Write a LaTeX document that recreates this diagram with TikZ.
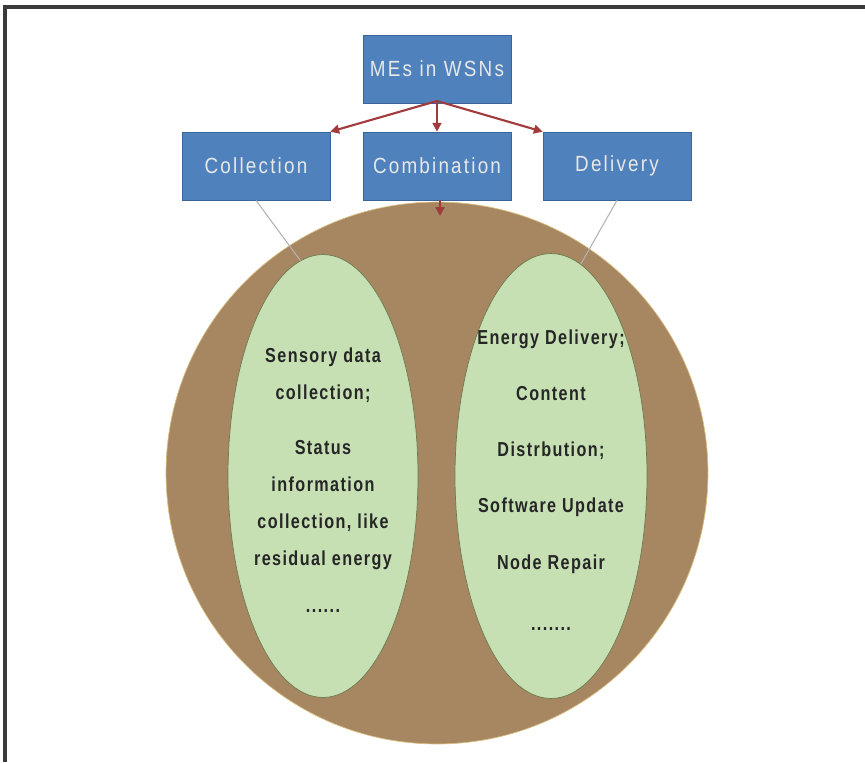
\documentclass[tikz,border=0pt]{standalone}
\usepackage{fontspec}
\setmainfont{Liberation Sans}
\newfontfamily\boxfont[LetterSpace=10,FakeStretch=0.86]{Liberation Sans}
\newfontfamily\leaffont[LetterSpace=7,FakeStretch=0.8]{Liberation Sans}
\usetikzlibrary{shapes.geometric,arrows.meta}

\definecolor{boxblue}{HTML}{4F81BD}
\definecolor{boxline}{HTML}{3A659A}
\definecolor{boxtext}{HTML}{E8E8E8}
\definecolor{soil}{HTML}{A68761}
\definecolor{soilline}{HTML}{D8BC80}
\definecolor{leafgreen}{HTML}{C6E0B4}
\definecolor{leafline}{HTML}{6F7A50}
\definecolor{linkred}{HTML}{A23B3B}
\definecolor{frameline}{HTML}{3A3A3A}

\begin{document}
\begin{tikzpicture}[x=0.02cm, y=-0.02cm,
  box/.style={draw=boxline, fill=boxblue, minimum width=2.96cm, minimum height=1.36cm,
    inner sep=0pt, text=boxtext, font=\boxfont\fontsize{12.5}{14}\selectfont},
  leaf/.style={ellipse, draw=leafline, fill=leafgreen, inner sep=0pt},
  leaftext/.style={align=center, inner sep=0pt, text=black!85, font=\leaffont\bfseries\fontsize{11.5}{21}\selectfont},
  link/.style={draw=linkred, line width=1.2pt, -{Triangle[length=5pt,width=5pt]}},
  tie/.style={draw=gray!60, line width=0.6pt}]
  \useasboundingbox (0,0) rectangle (865,762);

  % 外框（只见上、左两边）
  \draw[frameline, line width=1.8pt] (5,762) -- (5,7) -- (865,7);

  % 大圆
  \node[circle, fill=soil, draw=soilline, minimum size=10.84cm, inner sep=0pt] (field) at (437,473) {};

  % 两个椭圆及其文字
  \node[leaf, minimum width=3.8cm, minimum height=8.86cm] (lleaf) at (323,476) {};
  \node[leaf, minimum width=3.84cm, minimum height=8.9cm] (rleaf) at (551,476) {};
  \node[leaftext] (ltext) at (323,480) {Sensory data\\collection;\\[10.8pt]
    Status\\information\\collection, like\\residual energy\\[5.7pt]......};
  \node[leaftext, font=\leaffont\bfseries\fontsize{11.5}{32}\selectfont] (rtext) at (551,480)
    {Energy Delivery;\\Content\\Distrbution;\\Software Update\\Node Repair\\[3pt].......};

  % 方框
  \node[box] (root)  at (437,69)  {MEs in WSNs};
  \node[box] (coll)  at (256,166) {Collection};
  \node[box] (comb)  at (437,166) {Combination};
  \node[box] (deliv) at (617,166) {Delivery};

  % 箭头
  \coordinate (fork) at (437,101);
  \coordinate (drop) at (440,216);
  \draw[link] (fork) -- (coll.north east);
  \draw[link] (fork) -- (comb.north);
  \draw[link] (fork) -- (deliv.north west);
  \draw[link] ([xshift=3*0.02cm]comb.south) -- (drop);

  % 灰线连到椭圆
  \draw[tie] (coll.south) -- (lleaf.96);
  \draw[tie] (deliv.south) -- (rleaf.82);
\end{tikzpicture}
\end{document}
